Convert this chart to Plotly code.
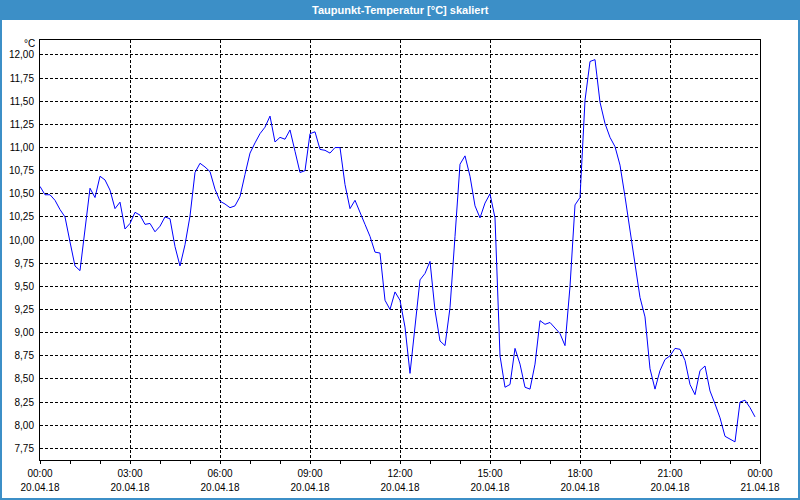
import plotly.graph_objects as go
import pandas as pd

title_text = "Taupunkt-Temperatur [°C] skaliert"
unit_label = "°C"
start_time = "2018-04-20 00:00"
end_time = "2018-04-21 00:00"
sample_step = "10min"

dewpoint = [
    10.58, 10.49, 10.49, 10.43, 10.33, 10.25, 9.98, 9.72, 9.67, 10.15,
    10.56, 10.46, 10.69, 10.65, 10.54, 10.34, 10.41, 10.12, 10.18, 10.30,
    10.27, 10.17, 10.18, 10.09, 10.15, 10.25, 10.23, 9.93, 9.72, 9.95,
    10.26, 10.73, 10.83, 10.79, 10.74, 10.55, 10.42, 10.39, 10.35, 10.37,
    10.47, 10.71, 10.94, 11.05, 11.15, 11.22, 11.34, 11.06, 11.11, 11.09,
    11.19, 10.96, 10.73, 10.75, 11.15, 11.17, 10.98, 10.97, 10.94, 11.00,
    11.00, 10.60, 10.34, 10.43, 10.29, 10.17, 10.04, 9.87, 9.86, 9.35,
    9.25, 9.44, 9.35, 9.06, 8.56, 9.09, 9.57, 9.64, 9.77, 9.24,
    8.91, 8.86, 9.27, 10.04, 10.82, 10.91, 10.69, 10.37, 10.24, 10.40,
    10.50, 10.24, 8.75, 8.41, 8.44, 8.83, 8.66, 8.41, 8.39, 8.66,
    9.13, 9.09, 9.11, 9.05, 8.99, 8.86, 9.50, 10.38, 10.46, 11.51,
    11.93, 11.95, 11.49, 11.26, 11.11, 11.01, 10.81, 10.47, 10.10, 9.71,
    9.38, 9.17, 8.61, 8.39, 8.59, 8.71, 8.75, 8.83, 8.82, 8.70,
    8.44, 8.33, 8.59, 8.64, 8.37, 8.23, 8.08, 7.88, 7.85, 7.82,
    8.25, 8.27, 8.19, 8.09,
]

tick_times = [
    "2018-04-20 00:00", "2018-04-20 03:00", "2018-04-20 06:00",
    "2018-04-20 09:00", "2018-04-20 12:00", "2018-04-20 15:00",
    "2018-04-20 18:00", "2018-04-20 21:00", "2018-04-21 00:00",
]
tick_hours = ["00:00", "03:00", "06:00", "09:00", "12:00", "15:00", "18:00", "21:00", "00:00"]
tick_dates = ["20.04.18"] * 8 + ["21.04.18"]

y_min, y_max = 7.624, 12.162
y_tick0, y_dtick = 7.75, 0.25

times = pd.date_range(start_time, periods=len(dewpoint), freq=sample_step)

W, H = 800, 500
ML, MR, MT, MB = 40, 40, 40, 40
PW, PH = W - ML - MR, H - MT - MB
BLUE = "#3c8fc7"
FONT = "Liberation Sans"
FS = 10


def px(xp):
    return (xp - ML) / PW


def py(yp):
    return (H - MB - yp) / PH


fig = go.Figure()
fig.add_trace(go.Scatter(
    x=times, y=dewpoint, mode="lines",
    line=dict(color="#0000ff", width=1),
    hoverinfo="skip", showlegend=False,
))

fig.update_layout(
    width=W, height=H,
    margin=dict(l=ML, r=MR, t=MT, b=MB, pad=0, autoexpand=False),
    paper_bgcolor="white", plot_bgcolor="white",
    separators=",.",
    font=dict(family=FONT, size=FS, color="#000000"),
    showlegend=False,
)

fig.update_layout(
    xaxis=dict(
        type="date",
        range=[start_time, end_time],
        tickvals=tick_times,
        ticktext=tick_hours,
        tickangle=0,
        ticks="outside", ticklen=3, tickcolor="black", tickwidth=1,
        showgrid=True, gridcolor="black", gridwidth=1, griddash="3px,2px",
        showline=True, linecolor="black", linewidth=1, mirror=True,
        zeroline=False, automargin=False,
        minor=dict(dtick=3600000, ticks="outside", ticklen=3, tickcolor="black", showgrid=False),
        ticklabelstandoff=1,
    ),
    xaxis2=dict(
        type="date",
        overlaying="x", anchor="y", side="bottom",
        range=[start_time, end_time],
        tickvals=tick_times,
        ticktext=tick_dates,
        tickangle=0,
        ticks="", showgrid=False, showline=False, zeroline=False,
        automargin=False,
        ticklabelstandoff=20,
    ),
    yaxis=dict(
        range=[y_min, y_max],
        tick0=y_tick0, dtick=y_dtick, tickformat=".2f",
        ticks="", showgrid=True, gridcolor="black", gridwidth=1, griddash="3px,2px",
        showline=True, linecolor="black", linewidth=1, mirror=True,
        zeroline=False, automargin=False,
        ticklabelstandoff=3,
    ),
)

# invisible trace to activate the date-label axis
fig.add_trace(go.Scatter(
    x=[start_time, end_time], y=[y_min, y_min], xaxis="x2", yaxis="y",
    mode="lines", line=dict(width=0), hoverinfo="skip", showlegend=False,
))

# title bar and window frame
fig.add_shape(type="rect", xref="paper", yref="paper",
              x0=px(0), x1=px(W), y0=py(20), y1=py(0),
              fillcolor=BLUE, line=dict(width=0), layer="below")
fig.add_shape(type="rect", xref="paper", yref="paper",
              x0=px(1), x1=px(W - 1), y0=py(H - 1), y1=py(1),
              fillcolor="rgba(0,0,0,0)", line=dict(color=BLUE, width=2))

fig.add_annotation(text="<b>" + title_text + "</b>", xref="paper", yref="paper",
                   x=px(W / 2), y=py(10), xanchor="center", yanchor="middle",
                   showarrow=False, font=dict(family=FONT, size=11, color="white"))
fig.add_annotation(text=unit_label, xref="paper", yref="paper",
                   x=px(37), y=py(44), xanchor="right", yanchor="middle",
                   showarrow=False, font=dict(family=FONT, size=FS, color="black"))

fig.write_html("out.html")
